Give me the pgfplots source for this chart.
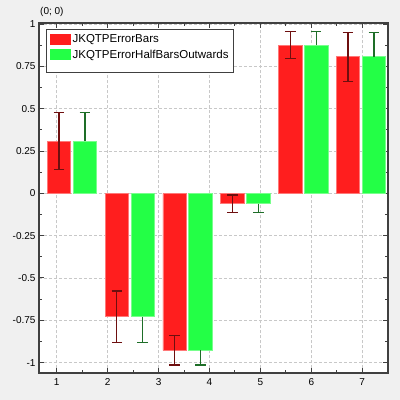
\documentclass[border=0pt]{standalone}
\usepackage{fontspec}
\setmainfont{Liberation Sans}
\usepackage{pgfplots}
\pgfplotsset{compat=1.18}
\definecolor{bg}{RGB}{240,240,240}
\definecolor{barred}{RGB}{255,30,30}
\definecolor{bargreen}{RGB}{35,255,70}
\definecolor{rededge}{RGB}{255,120,120}
\definecolor{greenedge}{RGB}{120,255,140}
\definecolor{errred}{RGB}{110,15,15}
\definecolor{errgreen}{RGB}{30,110,40}
\definecolor{axiscol}{RGB}{64,64,64}
\definecolor{gridcol}{RGB}{200,200,200}
\begin{document}
\begin{tikzpicture}[x=1pt,y=1pt]
\fill[bg] (0,0) rectangle (400,400);
\node[anchor=west, font=\fontsize{10}{12}\selectfont, inner sep=0pt] at (40,388) {(0; 0)};
\begin{axis}[
  at={(39pt,26.7pt)}, anchor=south west,
  scale only axis, width=349pt, height=350.6pt,
  xmin=0.652, xmax=7.505, ymin=-1.063, ymax=1.008,
  xtick={1,2,3,4,5,6,7},
  minor xtick={1.5,2.5,3.5,4.5,5.5,6.5,7.5},
  ytick={-1,-0.75,-0.5,-0.25,0,0.25,0.5,0.75,1},
  minor ytick={-0.875,-0.625,-0.375,-0.125,0.125,0.375,0.625,0.875},
  /pgf/number format/assume math mode=true,
  ticklabel style={font=\fontsize{10}{12}\selectfont},
  xticklabel style={yshift=-2pt},
  tick align=inside,
  major tick length=5pt, minor tick length=3pt,
  tick style={axiscol, line width=1pt},
  axis line style={axiscol, line width=1.8pt},
  grid=major,
  major grid style={gridcol, dash pattern=on 3pt off 2pt, line width=0.8pt},
  axis background/.style={fill=white},
  legend style={at={(0,1)}, anchor=north west, xshift=7pt, yshift=-6pt,
    draw=axiscol, line width=1.2pt, fill=white,
    font=\fontsize{11.5}{13}\selectfont, cells={anchor=west},
    inner xsep=3pt, inner ysep=3pt, row sep=2pt},
  legend image code/.code={\draw[#1, draw=none] (0pt,-5.5pt) rectangle (21pt,5.5pt);},
]
\addplot[ybar, bar width=0.46, bar shift=0pt, fill=barred, draw=rededge, line width=0.8pt,
  error bars/.cd, y dir=both, y explicit,
  error bar style={errred, line width=1.3pt},
  error mark options={rotate=90, errred, line width=1.3pt, mark size=5.3pt}]
  coordinates {
  (1.045,0.309) +- (0,0.167)
  (2.180,-0.729) +- (0,0.153)
  (3.315,-0.927) +- (0,0.087)
  (4.450,-0.061) +- (0,0.052)
  (5.585,0.876) +- (0,0.081)
  (6.720,0.807) +- (0,0.145)
  };
\addlegendentry{JKQTPErrorBars}
\addplot[ybar, bar width=0.46, bar shift=0pt, fill=bargreen, draw=greenedge, line width=0.8pt,
  error bars/.cd, y dir=plus, y explicit,
  error bar style={errgreen, line width=1.3pt},
  error mark options={rotate=90, errgreen, line width=1.3pt, mark size=5.3pt}]
  coordinates {
  (1.555,0.309) +- (0,0.167)
  (6.095,0.876) +- (0,0.081)
  (7.230,0.807) +- (0,0.145)
  };
\addlegendentry{JKQTPErrorHalfBarsOutwards}
\addplot[forget plot, ybar, bar width=0.46, bar shift=0pt, fill=bargreen, draw=greenedge, line width=0.8pt,
  error bars/.cd, y dir=minus, y explicit,
  error bar style={errgreen, line width=1.3pt},
  error mark options={rotate=90, errgreen, line width=1.3pt, mark size=5.3pt}]
  coordinates {
  (2.690,-0.729) +- (0,0.153)
  (3.825,-0.927) +- (0,0.087)
  (4.960,-0.061) +- (0,0.052)
  };
\addlegendimage{empty legend}
\addlegendentry{}
\end{axis}
\end{tikzpicture}
\end{document}
